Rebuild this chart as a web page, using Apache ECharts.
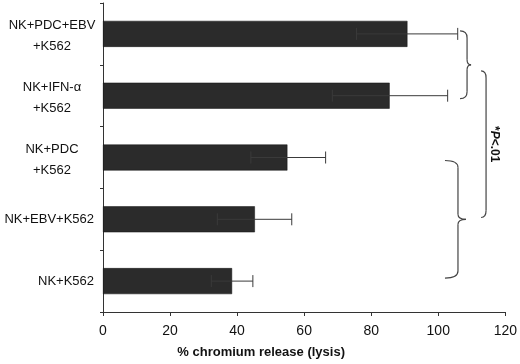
<!DOCTYPE html>
<html lang="en">
<head>
    <meta charset="UTF-8">
    <script src="https://cdn.jsdelivr.net/npm/echarts@6/dist/echarts.min.js"></script>
    <title>Chromium release</title>
    <style>body{margin:0;background:#fff;}</style>
</head>
<body>
<div id="main" style="width: 520px;height:364px;"></div>
<script type="text/javascript">
    // top to bottom
    var categories = ['NK+PDC+EBV\n+K562', 'NK+IFN-α\n+K562', 'NK+PDC\n+K562', 'NK+EBV+K562', 'NK+K562'];
    var lysis = [90.8, 85.5, 55.0, 45.3, 38.5];
    var errLow = [75.6, 68.4, 44.1, 34.1, 32.3];
    var errHigh = [105.8, 102.8, 66.4, 56.3, 44.7];
    var xTicks = [0, 20, 40, 60, 80, 100, 120];

    var myChart = echarts.init(document.getElementById('main'));
    var font = 'Liberation Sans, Arial, sans-serif';

    var errData = [];
    for (var i = 0; i < categories.length; i++) {
        errData.push([i, errLow[i], errHigh[i]]);
    }

    var option = {
        animation: false,
        grid: { left: 103, right: 12, top: 3, bottom: 51 },
        xAxis: {
            type: 'value',
            min: xTicks[0],
            max: xTicks[xTicks.length - 1],
            interval: 20,
            splitLine: { show: false },
            axisLine: { show: true, lineStyle: { color: '#333', width: 1 } },
            axisTick: { show: true, length: 4, lineStyle: { color: '#333' } },
            axisLabel: { color: '#111', fontSize: 14, fontFamily: font, margin: 12 },
            name: '% chromium release (lysis)',
            nameLocation: 'middle',
            nameGap: 34,
            nameTextStyle: { color: '#111', fontSize: 13, fontWeight: 'bold', fontFamily: font, padding: [0, 86, 0, 0] }
        },
        yAxis: {
            type: 'category',
            inverse: true,
            data: categories,
            axisLine: { lineStyle: { color: '#333', width: 1 } },
            axisTick: { show: true, length: 3, lineStyle: { color: '#333' } },
            axisLabel: {
                color: '#111', fontSize: 13, fontFamily: font, margin: 9, lineHeight: 21,
                formatter: function (v) {
                    var parts = v.split('\n');
                    if (parts.length === 1) return v;
                    return parts.map(function (p) { return '{c|' + p + '}'; }).join('\n');
                },
                rich: { c: { width: 84, align: 'center', fontSize: 13, fontFamily: font, color: '#111', lineHeight: 21, padding: [4, 0, 0, 0] } }
            }
        },
        series: [
            {
                type: 'bar',
                data: lysis,
                barWidth: 26,
                itemStyle: { color: '#2b2b2b', borderColor: '#111', borderWidth: 0.5 }
            },
            {
                type: 'custom',
                data: errData,
                encode: { x: [1, 2], y: 0 },
                z: 5,
                renderItem: function (params, api) {
                    var c = api.value(0);
                    var lo = api.coord([api.value(1), c]);
                    var hi = api.coord([api.value(2), c]);
                    var h = 6;
                    var st = { stroke: '#3a3a3a', lineWidth: 1 };
                    return {
                        type: 'group',
                        children: [
                            { type: 'line', shape: { x1: lo[0], y1: lo[1], x2: hi[0], y2: hi[1] }, style: st },
                            { type: 'line', shape: { x1: lo[0], y1: lo[1] - h, x2: lo[0], y2: lo[1] + h }, style: st },
                            { type: 'line', shape: { x1: hi[0], y1: hi[1] - h, x2: hi[0], y2: hi[1] + h }, style: st }
                        ]
                    };
                }
            }
        ]
    };
    myChart.setOption(option);

    // significance braces (annotation)
    var braceStyle = { stroke: '#444', lineWidth: 1.2, fill: null };
    function px(v, c) { return myChart.convertToPixel({ gridIndex: 0 }, [v, c]); }
    function curve(x1, y1, cx, cy, x2, y2) {
        return { type: 'bezierCurve', shape: { x1: x1, y1: y1, cpx1: cx, cpy1: cy, x2: x2, y2: y2 }, style: braceStyle };
    }
    function seg(x1, y1, x2, y2) {
        return { type: 'line', shape: { x1: x1, y1: y1, x2: x2, y2: y2 }, style: braceStyle };
    }
    function brace(x0, x1, tip, yTop, yBot) {
        var ym = (yTop + yBot) / 2;
        return { type: 'group', children: [
            curve(x0, yTop, x1, yTop, x1, yTop + 7),
            seg(x1, yTop + 7, x1, ym - 5),
            curve(x1, ym - 5, x1, ym, tip, ym),
            curve(tip, ym, x1, ym, x1, ym + 5),
            seg(x1, ym + 5, x1, yBot - 7),
            curve(x1, yBot - 7, x1, yBot, x0, yBot)
        ] };
    }
    function bracket(x0, x1, yTop, yBot) {
        return { type: 'group', children: [
            curve(x0, yTop, x1, yTop, x1, yTop + 7),
            seg(x1, yTop + 7, x1, yBot - 7),
            curve(x1, yBot - 7, x1, yBot, x0, yBot)
        ] };
    }
    var a0 = px(106.5, 0), a1 = px(106.5, 1);
    var b0 = px(102, 2), b1 = px(102, 4);
    var xa = a0[0], xb = b0[0];
    var cTop = a0[1] + 37, cBot = b0[1] + 60;
    myChart.setOption({
        graphic: [
            brace(xa, xa + 7, xa + 11, a0[1] - 3, a1[1] + 3),
            brace(xb, xb + 13, xb + 21, b0[1] + 3, b1[1] - 3),
            bracket(xa + 21, xa + 26, cTop, cBot),
            {
                type: 'text',
                x: xa + 34, y: (cTop + cBot) / 2,
                rotation: -Math.PI / 2,
                style: {
                    text: '{a|*}{b|P}{a|<.01}',
                    align: 'center', verticalAlign: 'middle',
                    rich: {
                        a: { fontSize: 12, fontWeight: 'bold', fontFamily: font, fill: '#111' },
                        b: { fontSize: 12, fontWeight: 'bold', fontStyle: 'italic', fontFamily: font, fill: '#111' }
                    }
                }
            }
        ]
    });
</script>
</body>
</html>
